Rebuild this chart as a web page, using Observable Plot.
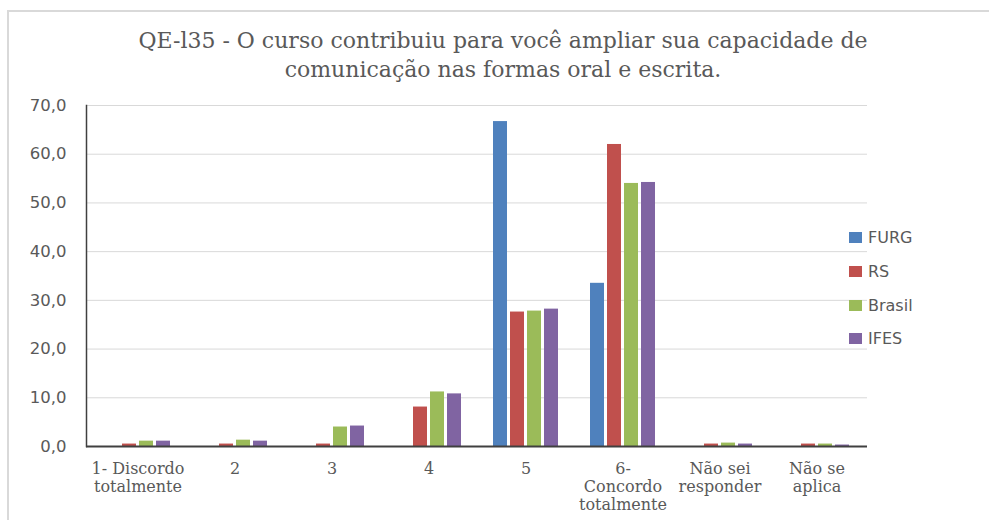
<!DOCTYPE html>
<html><head><meta charset="utf-8">
<script src="https://cdn.jsdelivr.net/npm/d3@7"></script>
<script src="https://cdn.jsdelivr.net/npm/@observablehq/plot@0.6"></script>
<style>
html,body{margin:0;padding:0;background:#fff}
body{width:989px;height:520px;overflow:hidden;position:relative;font-family:"DejaVu Sans",sans-serif}
#frame{position:absolute;left:7px;top:10px;width:1100px;height:700px;border-left:2px solid #d9d9d9;border-top:2px solid #d9d9d9}
#title{position:absolute;left:0;top:26px;width:1006px;text-align:center;font-family:"DejaVu Serif",serif;font-size:22px;line-height:29px;color:#595959}
.layer{position:absolute;left:0;top:0}
#legend{position:absolute;left:849px;top:221px;font-family:"DejaVu Sans",sans-serif;font-size:16px;color:#595959}
.item{display:flex;align-items:center;height:33.7px}
.sw{width:13px;height:11px;margin-right:6px}
</style>
</head><body>
<div id="frame"></div>
<div id="chart"></div>
<div id="title">QE-l35 - O curso contribuiu para você ampliar sua capacidade de<br>comunicação nas formas oral e escrita.</div>
<div id="legend"></div>
<script>
const categories = ["1- Discordo\ntotalmente", "2", "3", "4", "5", "6-\nConcordo\ntotalmente", "Não sei\nresponder", "Não se\naplica"];
const series = ["FURG", "RS", "Brasil", "IFES"];
const furg   = [0, 0, 0, 0, 66.7, 33.5, 0, 0];
const rs     = [0.5, 0.5, 0.5, 8.1, 27.6, 62.0, 0.5, 0.5];
const brasil = [1.1, 1.3, 4.0, 11.2, 27.8, 54.0, 0.7, 0.5];
const ifes   = [1.1, 1.1, 4.2, 10.8, 28.2, 54.2, 0.5, 0.3];
const colors = ["#4F81BD", "#C0504D", "#9BBB59", "#8064A2"];
const yTicks = [0, 10, 20, 30, 40, 50, 60, 70];

const values = [furg, rs, brasil, ifes];
const data = [];
categories.forEach((c, i) => series.forEach((s, k) => data.push({cat: c, series: s, value: values[k][i]})));

const W = 989, H = 520;
const M = {marginLeft: 86, marginRight: 122, marginTop: 105, marginBottom: 74};
const fmt = d => d3.format(".1f")(d).replace(".", ",");

const bg = Plot.plot({
  width: W, height: H, ...M,
  style: {background: "transparent", overflow: "visible"},
  x: {type: "band", domain: categories, padding: 0, axis: null},
  y: {domain: [0, 70], axis: null},
  marks: [
    Plot.ruleY(yTicks, {stroke: "#d9d9d9", strokeWidth: 1}),
    Plot.axisY({ticks: yTicks, tickSize: 0, tickPadding: 20, tickFormat: fmt, fontSize: 16.5, fill: "#595959", fontFamily: "DejaVu Sans", label: null}),
    Plot.text(categories, {x: d => d, frameAnchor: "bottom", lineAnchor: "top", dy: 14, lineHeight: 1.15, fontSize: 16, fontFamily: "DejaVu Serif", fill: "#595959"})
  ]
});

const fg = Plot.plot({
  width: W, height: H, ...M,
  style: {background: "transparent"},
  fx: {domain: categories, paddingInner: 0.315, paddingOuter: 0.1575, axis: null, label: null},
  x: {domain: series, paddingInner: 0.2, paddingOuter: 0, axis: null},
  y: {domain: [0, 70], axis: null},
  color: {domain: series, range: colors},
  marks: [
    Plot.barY(data, {fx: "cat", x: "series", y: "value", fill: "series"})
  ]
});

const ax = Plot.plot({
  width: W, height: H, ...M,
  style: {background: "transparent"},
  x: {type: "band", domain: categories, padding: 0, axis: null},
  y: {domain: [0, 70], axis: null},
  marks: [
    Plot.frame({anchor: "left", stroke: "#404040", strokeWidth: 1.5}),
    Plot.ruleY([0], {stroke: "#404040", strokeWidth: 2})
  ]
});

const chart = document.getElementById("chart");
[bg, fg, ax].forEach(s => { s.classList.add("layer"); chart.appendChild(s); });

const legend = document.getElementById("legend");
series.forEach((s, k) => {
  const it = document.createElement("div");
  it.className = "item";
  it.innerHTML = `<span class="sw" style="background:${colors[k]}"></span><span>${s}</span>`;
  legend.appendChild(it);
});
</script>
</body></html>
